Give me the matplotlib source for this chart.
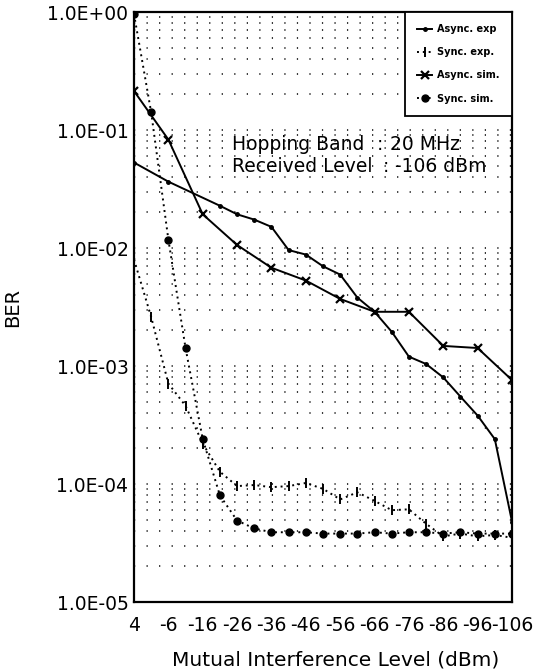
import numpy as np
import matplotlib
matplotlib.use('Agg')
import matplotlib.pyplot as plt
from matplotlib.ticker import LogLocator, NullFormatter

# x axis: mutual interference level, plotted by index
x_labels = ['4', '-6', '-16', '-26', '-36', '-46', '-56', '-66', '-76', '-86', '-96', '-106']

# half-step positions (k / 2) for the exp / sync curves
async_exp_k = [0, 2, 5, 6, 7, 8, 9, 10, 11, 12, 13, 14, 15, 16, 17, 18, 19, 20, 21, 22]
async_exp_ber = [5.3e-2, 3.65e-2, 2.28e-2, 1.93e-2, 1.74e-2, 1.51e-2, 9.6e-3, 8.8e-3,
                 7.0e-3, 5.95e-3, 3.8e-3, 2.88e-3, 1.95e-3, 1.2e-3, 1.04e-3, 8.0e-4,
                 5.5e-4, 3.8e-4, 2.4e-4, 4.8e-5]

sync_exp_k = list(range(23))
sync_exp_ber = [8.0e-3, 2.6e-3, 7.1e-4, 4.6e-4, 2.2e-4, 1.27e-4, 9.6e-5, 9.8e-5, 9.4e-5,
                9.6e-5, 1.02e-4, 9.1e-5, 7.4e-5, 8.5e-5, 7.2e-5, 6.0e-5, 6.1e-5, 4.6e-5,
                3.6e-5, 3.8e-5, 3.6e-5, 3.7e-5, 3.5e-5]

async_sim_idx = list(range(12))
async_sim_ber = [2.14e-1, 8.3e-2, 1.93e-2, 1.06e-2, 6.8e-3, 5.3e-3, 3.7e-3, 2.88e-3,
                 2.88e-3, 1.48e-3, 1.42e-3, 7.6e-4]

sync_sim_k = list(range(23))
sync_sim_ber = [0.96, 0.141, 1.18e-2, 1.42e-3, 2.4e-4, 8.0e-5, 4.9e-5, 4.2e-5, 3.9e-5,
                3.9e-5, 3.9e-5, 3.8e-5, 3.8e-5, 3.8e-5, 3.9e-5, 3.8e-5, 3.9e-5, 3.9e-5,
                3.8e-5, 3.9e-5, 3.8e-5, 3.8e-5, 3.8e-5]

plt.rcParams['font.family'] = 'DejaVu Sans'

W, H = 538, 672
fig = plt.figure(figsize=(W / 100, H / 100), dpi=100)
ax = fig.add_axes([134 / W, 1 - 602 / H, (512 - 134) / W, (602 - 12) / H])

dotted = (0, (1, 2))
ax.plot(np.array(async_exp_k) / 2, async_exp_ber, color='black', lw=1.4,
        marker='o', ms=2.5, label='Async. exp')
ax.plot(np.array(sync_exp_k) / 2, sync_exp_ber, color='black', lw=1.4, ls=dotted,
        marker='|', ms=7, mew=1.4, label='Sync. exp.')
ax.plot(async_sim_idx, async_sim_ber, color='black', lw=1.4,
        marker='x', ms=6, mew=1.6, label='Async. sim.')
ax.plot(np.array(sync_sim_k) / 2, sync_sim_ber, color='black', lw=1.4, ls=dotted,
        marker='o', ms=5, label='Sync. sim.')

ax.set_yscale('log')
ax.set_ylim(1e-5, 1)
ax.set_xlim(0, 11)

ax.yaxis.set_minor_locator(LogLocator(base=10, subs=np.arange(2, 10), numticks=20))
ax.yaxis.set_minor_formatter(NullFormatter())
ax.set_yticks([1, 1e-1, 1e-2, 1e-3, 1e-4, 1e-5])
ax.set_yticklabels(['1.0E+00', '1.0E-01', '1.0E-02', '1.0E-03', '1.0E-04', '1.0E-05'])
ax.set_xticks(range(12))
ax.set_xticklabels(x_labels)
ax.tick_params(axis='both', which='both', length=0, labelsize=13.5)
ax.tick_params(axis='y', pad=4)
ax.tick_params(axis='x', pad=10)

ax.yaxis.grid(True, which='both', color='black', lw=1.1, ls=(0, (0.8, 7.4)))
ax.set_axisbelow(True)

for s in ax.spines.values():
    s.set_linewidth(1.6)

ax.set_ylabel('BER', fontsize=14)
ax.yaxis.set_label_coords((22 - 134) / 378, 0.5)
ax.set_xlabel('Mutual Interference Level (dBm)', fontsize=14.5)
ax.xaxis.set_label_coords((336 - 134) / 378, (602 - 651) / 590)

leg = ax.legend(loc='upper right', bbox_to_anchor=(1, 1), borderaxespad=0,
                fancybox=False, framealpha=1, edgecolor='black',
                prop={'size': 7, 'weight': 'bold'}, handlelength=1.6,
                handletextpad=0.5, labelspacing=1.35, borderpad=1.25)
leg.get_frame().set_linewidth(1.3)

fs = 13.5
fig.text(232 / W, 1 - 144 / H, 'Hopping Band', fontsize=fs, va='center')
fig.text(377 / W, 1 - 144 / H, ':', fontsize=fs, va='center')
fig.text(390 / W, 1 - 144 / H, '20 MHz', fontsize=fs, va='center')
fig.text(232 / W, 1 - 166 / H, 'Received Level', fontsize=fs, va='center')
fig.text(383 / W, 1 - 166 / H, ':', fontsize=fs, va='center')
fig.text(395 / W, 1 - 166 / H, '-106 dBm', fontsize=fs, va='center')

fig.savefig('out.png', dpi=100)
